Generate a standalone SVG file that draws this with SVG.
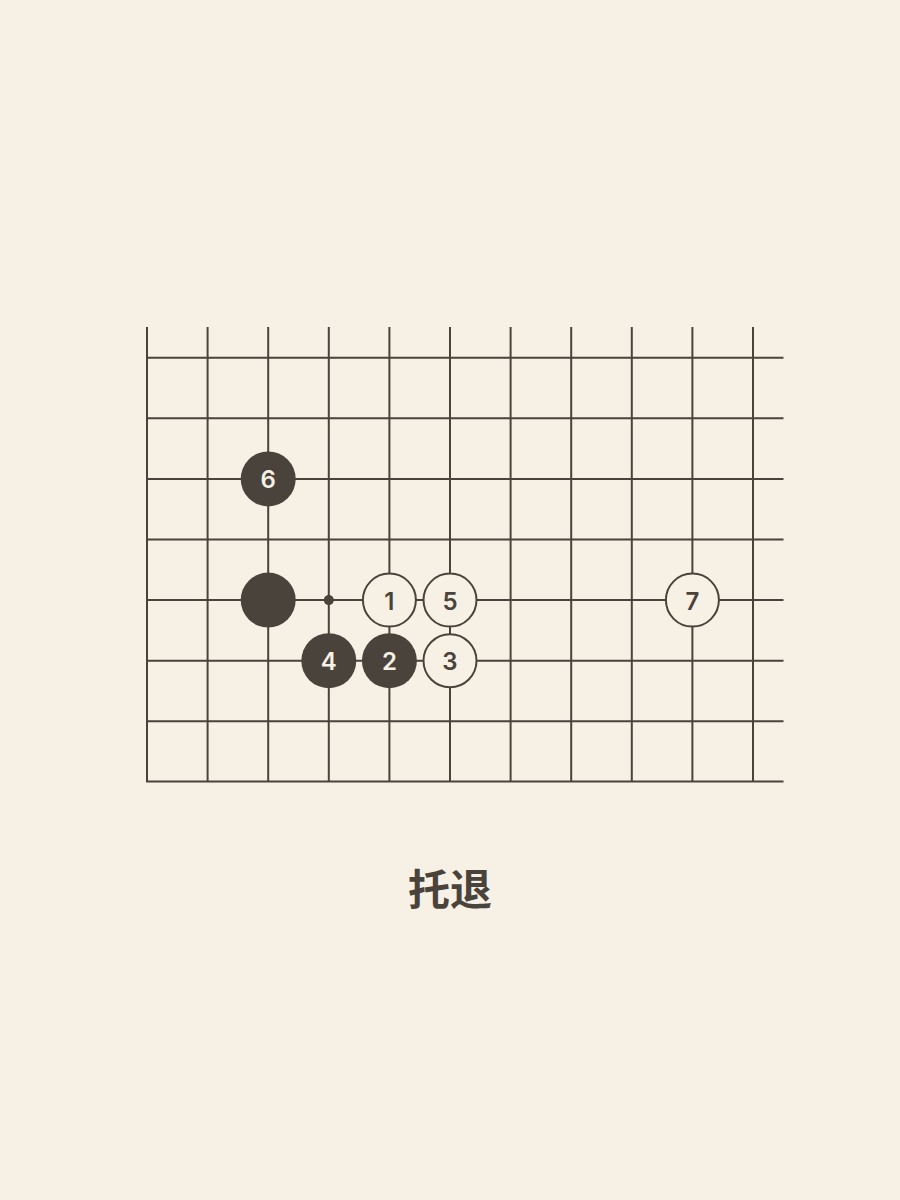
<svg xmlns="http://www.w3.org/2000/svg" width="900" height="1200" viewBox="0 0 900 1200">
<style>
.g line{stroke:#4a433b;stroke-width:2}
.b{fill:#4a433b}
.w{fill:#f6f0e5;stroke:#4a433b;stroke-width:2}
.tb{fill:#f6f0e5;font-family:Inter,"Noto Sans",sans-serif;font-size:24px;font-weight:600;text-anchor:middle;dominant-baseline:central}
.tw{fill:#4a433b;font-family:Inter,"Noto Sans",sans-serif;font-size:24px;font-weight:600;text-anchor:middle;dominant-baseline:central}
.title{fill:#4a433b;font-family:"Noto Sans CJK SC","Noto Sans CJK TC",sans-serif;font-size:42px;font-weight:600;text-anchor:middle;dominant-baseline:central}
</style>
<rect width="900" height="1200" fill="#f6f0e5"/>
<g id="grid" class="g">
<line x1="147" y1="327" x2="147" y2="782"/>
<line x1="207.6" y1="327" x2="207.6" y2="782"/>
<line x1="268.2" y1="327" x2="268.2" y2="782"/>
<line x1="328.8" y1="327" x2="328.8" y2="782"/>
<line x1="389.4" y1="327" x2="389.4" y2="782"/>
<line x1="450" y1="327" x2="450" y2="782"/>
<line x1="510.6" y1="327" x2="510.6" y2="782"/>
<line x1="571.2" y1="327" x2="571.2" y2="782"/>
<line x1="631.8" y1="327" x2="631.8" y2="782"/>
<line x1="692.4" y1="327" x2="692.4" y2="782"/>
<line x1="753" y1="327" x2="753" y2="782"/>
<line x1="146" y1="357.7" x2="783.5" y2="357.7"/>
<line x1="146" y1="418.3" x2="783.5" y2="418.3"/>
<line x1="146" y1="478.9" x2="783.5" y2="478.9"/>
<line x1="146" y1="539.5" x2="783.5" y2="539.5"/>
<line x1="146" y1="600.1" x2="783.5" y2="600.1"/>
<line x1="146" y1="660.7" x2="783.5" y2="660.7"/>
<line x1="146" y1="721.3" x2="783.5" y2="721.3"/>
<line x1="146" y1="781.5" x2="783.5" y2="781.5"/>
</g>
<g id="marker-dot"><circle class="b" cx="328.8" cy="600.1" r="5"/></g>
<g id="stone-black"><circle class="b" cx="268.2" cy="600.1" r="27.5"/></g>
<g id="stone-6"><circle class="b" cx="268.2" cy="478.9" r="27.5"/><text class="tb" x="268.2" y="479.9">6</text></g>
<g id="stone-4"><circle class="b" cx="328.8" cy="660.7" r="27.5"/><text class="tb" x="328.8" y="661.7">4</text></g>
<g id="stone-2"><circle class="b" cx="389.4" cy="660.7" r="27.5"/><text class="tb" x="389.4" y="661.7">2</text></g>
<g id="stone-1"><circle class="w" cx="389.4" cy="600.1" r="26.5"/><text class="tw" x="389.4" y="601.1">1</text></g>
<g id="stone-5"><circle class="w" cx="450" cy="600.1" r="26.5"/><text class="tw" x="450" y="601.1">5</text></g>
<g id="stone-3"><circle class="w" cx="450" cy="660.7" r="26.5"/><text class="tw" x="450" y="661.7">3</text></g>
<g id="stone-7"><circle class="w" cx="692.4" cy="600.1" r="26.5"/><text class="tw" x="692.4" y="601.1">7</text></g>
<g id="caption"><text class="title" x="450" y="886">托退</text></g>
</svg>
